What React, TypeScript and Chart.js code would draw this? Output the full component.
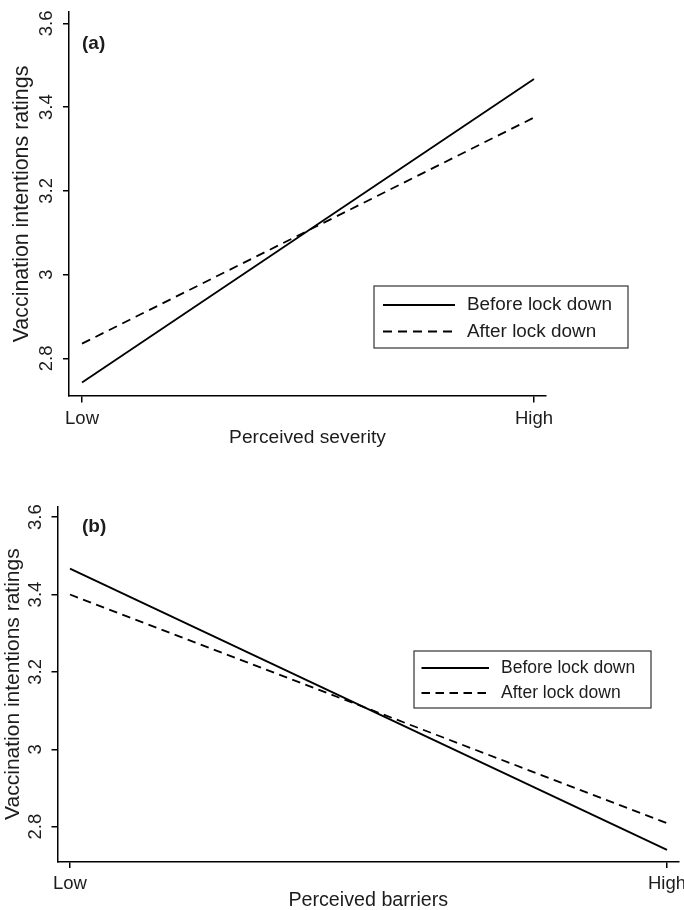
import React, { useEffect, useRef } from 'react';
import { Chart, registerables } from 'chart.js';

Chart.register(...registerables);

// ---- data ----
const xLabels = ['Low', 'High'];
const xTickValues = [0, 1];
const yTickValues = [2.8, 3.0, 3.2, 3.4, 3.6];
const yTickLabels = ['2.8', '3', '3.2', '3.4', '3.6'];
const seriesNames = ['Before lock down', 'After lock down'];
const severityBefore = [2.742, 3.467];
const severityAfter = [2.835, 3.375];
const barriersBefore = [3.467, 2.74];
const barriersAfter = [3.4, 2.809];
const panelLabels = ['(a)', '(b)'];
const xTitles = ['Perceived severity', 'Perceived barriers'];
const yTitle = 'Vaccination intentions ratings';

const FONT = '"Liberation Sans", Arial, Helvetica, sans-serif';
const TEXT = '#1c1c1c';

type PanelCfg = {
  top: number;
  height: number;
  padTop: number;
  padRight: number;
  yWidth: number;
  xHeight: number;
  xMin: number;
  xMax: number;
  yMin: number;
  yMax: number;
  yTickSize: number;
  xTickSize: number;
  xTitleSize: number;
  yTitleSize: number;
  yTickPad: number;
  yTitlePad: number;
  xTickPad: number;
  xTitlePad: number;
  xTitleLineHeight: number;
  dash: number[];
  before: number[];
  after: number[];
  label: string;
  xTitle: string;
  annotate: any;
};

const panels: PanelCfg[] = [
  {
    top: 0,
    height: 455,
    padTop: 12,
    padRight: 138,
    yWidth: 69,
    xHeight: 59,
    xMin: -0.0288,
    xMax: 1.0265,
    yMin: 2.71,
    yMax: 3.627,
    yTickSize: 18.5,
    xTickSize: 18.5,
    xTitleSize: 19.2,
    yTitleSize: 21.4,
    yTickPad: 3.5,
    yTitlePad: 9.2,
    xTickPad: 5.4,
    xTitlePad: 5.5,
    xTitleLineHeight: 1.2,
    dash: [9, 6],
    before: severityBefore,
    after: severityAfter,
    label: panelLabels[0],
    xTitle: xTitles[0],
    annotate: {
      labelX: 82,
      labelY: 43.5,
      labelSize: 19,
      box: [374, 286, 628, 348],
      lineX0: 383,
      lineX1: 455,
      textX: 467,
      rows: [305, 331.5],
      fontSize: 18.9,
    },
  },
  {
    top: 460,
    height: 450,
    padTop: 46.7,
    padRight: 5,
    yWidth: 57.5,
    xHeight: 48.5,
    xMin: -0.0209,
    xMax: 1.0201,
    yMin: 2.71,
    yMax: 3.627,
    yTickSize: 18.5,
    xTickSize: 18.5,
    xTitleSize: 19.7,
    yTitleSize: 21,
    yTickPad: 2.7,
    yTitlePad: 0.7,
    xTickPad: 4.4,
    xTitlePad: 0,
    xTitleLineHeight: 0.92,
    dash: [8.5, 5.5],
    before: barriersBefore,
    after: barriersAfter,
    label: panelLabels[1],
    xTitle: xTitles[1],
    annotate: {
      labelX: 82,
      labelY: 67,
      labelSize: 19,
      box: [414, 191, 651, 248],
      lineX0: 421.5,
      lineX1: 489,
      textX: 501,
      rows: [208, 233],
      fontSize: 17.5,
    },
  },
];

const annotatePlugin = {
  id: 'annotate',
  afterDraw(chart: any, _args: any, opts: any) {
    const ctx = chart.ctx as CanvasRenderingContext2D;
    ctx.save();
    ctx.fillStyle = TEXT;
    ctx.textAlign = 'left';
    ctx.textBaseline = 'middle';
    ctx.font = `bold ${opts.labelSize}px ${FONT}`;
    ctx.fillText(opts.text, opts.labelX, opts.labelY);

    const b = opts.box;
    ctx.strokeStyle = '#333';
    ctx.lineWidth = 1.2;
    ctx.setLineDash([]);
    ctx.strokeRect(b[0], b[1], b[2] - b[0], b[3] - b[1]);

    chart.data.datasets.forEach((ds: any, i: number) => {
      const y = opts.rows[i];
      ctx.beginPath();
      ctx.setLineDash(ds.borderDash || []);
      ctx.lineWidth = ds.borderWidth;
      ctx.strokeStyle = ds.borderColor;
      ctx.moveTo(opts.lineX0, y);
      ctx.lineTo(opts.lineX1, y);
      ctx.stroke();
      ctx.setLineDash([]);
      ctx.font = `${opts.fontSize}px ${FONT}`;
      ctx.fillStyle = TEXT;
      ctx.fillText(ds.label, opts.textX, y);
    });
    ctx.restore();
  },
};

function Panel({ cfg }: { cfg: PanelCfg }) {
  const ref = useRef<HTMLCanvasElement>(null);
  useEffect(() => {
    const chart = new Chart(ref.current as HTMLCanvasElement, {
      type: 'line',
      data: {
        datasets: [
          {
            label: seriesNames[0],
            data: cfg.before.map((v, i) => ({ x: xTickValues[i], y: v })),
            borderColor: '#000',
            borderWidth: 1.8,
            pointRadius: 0,
            tension: 0,
            fill: false,
          },
          {
            label: seriesNames[1],
            data: cfg.after.map((v, i) => ({ x: xTickValues[i], y: v })),
            borderColor: '#000',
            borderWidth: 1.8,
            borderDash: cfg.dash,
            pointRadius: 0,
            tension: 0,
            fill: false,
          },
        ],
      },
      options: {
        responsive: false,
        animation: false,
        layout: { padding: { top: cfg.padTop, right: cfg.padRight, left: 0, bottom: 0 } },
        plugins: {
          legend: { display: false },
          tooltip: { enabled: false },
          annotate: { ...cfg.annotate, text: cfg.label },
        } as any,
        scales: {
          x: {
            type: 'linear',
            min: cfg.xMin,
            max: cfg.xMax,
            afterBuildTicks: (s: any) => {
              s.ticks = xTickValues.map((v) => ({ value: v }));
            },
            afterFit: (s: any) => {
              s.height = cfg.xHeight;
              s.paddingLeft = 0;
              s.paddingRight = 0;
            },
            ticks: {
              autoSkip: false,
              maxRotation: 0,
              minRotation: 0,
              padding: cfg.xTickPad,
              color: TEXT,
              font: { family: FONT, size: cfg.xTickSize, lineHeight: 1.2 },
              callback: (_v: any, i: number) => xLabels[i],
            },
            grid: { drawOnChartArea: false, drawTicks: true, tickLength: 6.5, color: '#000', lineWidth: 1.5 },
            border: { display: true, color: '#000', width: 1.5 },
            title: {
              display: true,
              text: cfg.xTitle,
              color: TEXT,
              font: { family: FONT, size: cfg.xTitleSize, lineHeight: cfg.xTitleLineHeight },
              padding: { top: 0, bottom: cfg.xTitlePad },
            },
          },
          y: {
            type: 'linear',
            min: cfg.yMin,
            max: cfg.yMax,
            afterBuildTicks: (s: any) => {
              s.ticks = yTickValues.map((v) => ({ value: v }));
            },
            afterFit: (s: any) => {
              s.width = cfg.yWidth;
              s.paddingTop = 0;
              s.paddingBottom = 0;
            },
            ticks: {
              autoSkip: false,
              minRotation: 90,
              maxRotation: 90,
              crossAlign: 'center',
              padding: cfg.yTickPad,
              color: TEXT,
              font: { family: FONT, size: cfg.yTickSize, lineHeight: 1.2 },
              callback: (_v: any, i: number) => yTickLabels[i],
            },
            grid: { drawOnChartArea: false, drawTicks: true, tickLength: 6, color: '#000', lineWidth: 1.5 },
            border: { display: true, color: '#000', width: 1.5 },
            title: {
              display: true,
              text: yTitle,
              color: TEXT,
              font: { family: FONT, size: cfg.yTitleSize, lineHeight: 1.2 },
              padding: { top: cfg.yTitlePad, bottom: 0 },
            },
          },
        },
      } as any,
      plugins: [annotatePlugin],
    });
    return () => chart.destroy();
  }, []);
  return (
    <div style={{ position: 'absolute', left: 0, top: cfg.top, width: 684, height: cfg.height }}>
      <canvas ref={ref} width={684} height={cfg.height} style={{ display: 'block' }} />
    </div>
  );
}

export default function App() {
  return (
    <div style={{ position: 'absolute', left: 0, top: 0, width: 684, height: 910, background: '#fff', overflow: 'hidden' }}>
      {panels.map((p, i) => (
        <Panel key={i} cfg={p} />
      ))}
    </div>
  );
}
